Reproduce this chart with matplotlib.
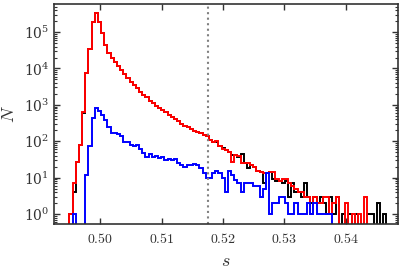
import numpy as np
import matplotlib
matplotlib.use('Agg')
import matplotlib.pyplot as plt

plt.rcParams['mathtext.fontset'] = 'cm'
plt.rcParams['font.family'] = 'serif'
plt.rcParams['font.serif'] = ['DejaVu Serif']
plt.rcParams['axes.formatter.use_mathtext'] = True

# histogram bins (common to all three series)
s_lo, s_hi, n_bins = 0.4950, 0.5466, 100

# counts per bin
red_counts = [
    1, 7, 27, 80, 650, 7400, 35000, 190000, 325000, 190000,
    92000, 44000, 26000, 19000, 15000, 12000, 9000, 7000, 5500, 4300,
    3500, 2900, 2300, 1900, 1600, 1300, 1100, 950, 820, 720,
    620, 530, 460, 400, 350, 300, 270, 240, 215, 195,
    175, 165, 150, 140, 110, 95, 100, 75, 62, 58,
    50, 27, 42, 40, 26, 25, 25, 22, 20, 15,
    14, 13, 13, 14, 14, 9, 8, 9, 9, 7,
    6, 5, 4, 4, 3, 3, 1, 3, 2, 2,
    3, 3, 1, 2, 3, 0, 0, 2, 0, 1,
    0, 1, 0, 3, 0, 0, 0, 0, 0, 0,
]
black_counts = [
    1, 4, 27, 80, 600, 7400, 35000, 190000, 325000, 190000,
    92000, 44000, 26000, 19000, 15000, 12000, 9000, 7000, 5500, 4300,
    3500, 2900, 2300, 1900, 1600, 1300, 1100, 950, 820, 720,
    620, 530, 460, 400, 350, 300, 270, 240, 215, 195,
    175, 165, 150, 140, 110, 95, 95, 75, 64, 58,
    50, 42, 42, 38, 45, 25, 18, 22, 20, 15,
    14, 7, 13, 14, 9, 8, 8, 7, 8, 3,
    7, 4, 4, 3, 7, 3, 2, 3, 2, 3,
    2, 1, 3, 1, 3, 0, 1, 0, 1, 0,
    1, 0, 0, 0, 1, 1, 0, 2, 0, 1,
]
blue_counts = [
    0, 1, 0, 0, 0, 12, 75, 430, 830, 680,
    525, 380, 250, 170, 165, 160, 135, 97, 95, 80,
    75, 80, 60, 48, 36, 44, 37, 40, 35, 38,
    30, 33, 30, 32, 25, 22, 20, 22, 22, 24,
    22, 18, 13, 10, 10, 13, 15, 13, 10, 4,
    15, 12, 8.6, 7, 4, 7, 7, 7, 6, 6,
    3, 5, 13, 1, 2, 2, 3, 3, 2, 1,
    1, 2, 1, 1, 1, 2, 1, 2, 1, 1,
    1, 1, 1, 0, 0, 0, 0, 0, 0, 0,
    0, 0, 0, 0, 0, 0, 0, 0, 0, 0,
]
s_cut = 0.5175

x_ticks = [0.50, 0.51, 0.52, 0.53, 0.54]
x_ticklabels = ['0.50', '0.51', '0.52', '0.53', '0.54']

edges = np.linspace(s_lo, s_hi, n_bins + 1)

fig = plt.figure(figsize=(4.07, 2.71), dpi=100)
ax = fig.add_axes([0.1327, 0.1734, 0.978 - 0.1327, 0.985 - 0.1734])

ax.set_yscale('log')
ax.stairs(black_counts, edges, color='black', lw=1.4)
ax.stairs(red_counts, edges, color='#ff0000', lw=1.4)
ax.stairs(blue_counts, edges, color='#0000ff', lw=1.4)
ax.axvline(s_cut, color='gray', ls=':', lw=1.5)

ax.set_xlim(0.4925, 0.5485)
ax.set_ylim(0.53, 5.9e5)
ax.set_xticks(x_ticks)
ax.set_xticklabels(['$' + t + '$' for t in x_ticklabels])

ax.set_xlabel('$s$', fontsize=13, color='#333333')
ax.set_ylabel('$N$', fontsize=13, color='#333333')

ax.tick_params(which='both', direction='in', top=True, right=True,
               colors='#333333', labelsize=10)
ax.tick_params(which='major', length=4, width=1)
ax.tick_params(which='minor', length=2, width=0.8)
ax.tick_params(axis='x', pad=6)
for sp in ax.spines.values():
    sp.set_color('#333333')
    sp.set_linewidth(1.2)

fig.savefig('out.png', dpi=100)
